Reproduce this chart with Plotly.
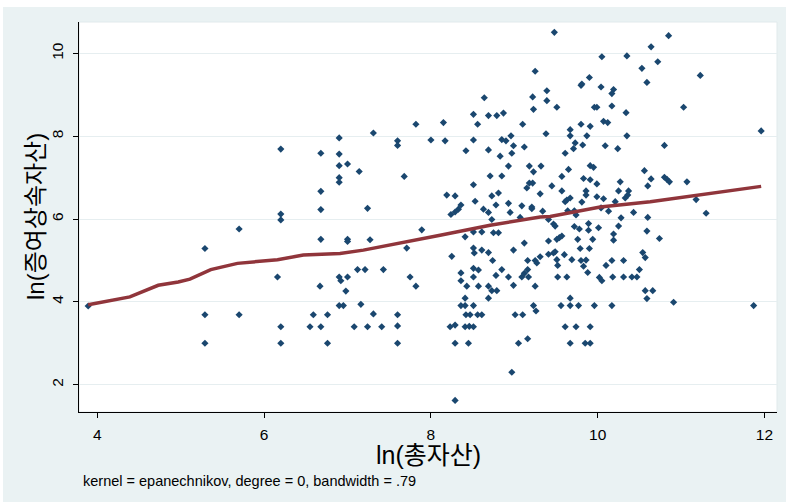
import plotly.graph_objects as go

# ---- data: scatter points (ln total assets, ln gift/inheritance assets) ----
x_low = [3.89, 5.29, 5.70, 6.16, 5.29, 5.70, 5.29,
         6.20, 6.68, 6.90, 6.90, 6.90, 7.00, 7.14, 6.90, 6.90, 7.31,
         7.60, 7.60, 7.82, 8.00, 7.68, 6.68, 6.68, 7.24, 6.20, 6.20,
         6.68, 7.00, 7.00, 7.27, 7.89, 7.71, 6.67, 6.90, 6.92, 7.00,
         6.98, 7.12, 7.21, 7.43, 7.75, 7.82, 6.90, 6.95, 7.16, 6.59,
         6.76, 7.31, 7.60, 6.20, 6.55, 6.68, 7.08, 7.24, 7.41, 7.60,
         6.20, 6.76, 7.60]
y_low = [3.90, 5.29, 5.76, 4.60, 3.69, 3.69, 3.00,
         7.69, 7.59, 7.96, 7.57, 7.29, 7.33, 7.15, 7.00, 6.89, 8.08,
         7.89, 7.78, 8.29, 7.91, 7.03, 6.67, 6.23, 6.26, 6.12, 5.98,
         5.51, 5.51, 5.46, 5.50, 5.74, 5.30, 4.38, 4.60, 4.51, 4.60,
         4.26, 4.78, 4.78, 4.78, 4.60, 4.38, 3.91, 3.91, 3.94, 3.69,
         3.69, 3.71, 3.69, 3.40, 3.40, 3.40, 3.40, 3.40, 3.40, 3.42,
         3.00, 3.00, 3.00]

x_mid = [9.25, 8.64, 9.39, 9.22, 9.39, 9.23, 8.51, 8.69, 8.79, 8.87,
         8.15, 8.56, 9.10, 9.38, 8.17, 8.51, 8.85, 8.90, 8.96, 8.99,
         9.12, 8.42, 8.69, 8.83, 8.97, 8.93, 9.18, 9.32, 9.23, 8.71,
         8.85, 9.18, 9.22, 9.15, 8.51, 9.31, 8.19, 8.29, 8.53, 8.81,
         8.73, 8.36, 8.33, 8.29, 8.24, 8.78, 8.93, 8.63, 8.69, 9.09,
         9.21, 9.21, 8.95, 9.34, 8.73, 9.07, 9.41, 8.41, 8.51, 8.61,
         8.75, 8.81, 8.25, 8.51, 8.52, 8.61, 8.69, 8.74, 8.99, 9.12,
         9.16, 9.25, 9.27, 9.31, 9.41, 9.41, 8.36, 8.51, 8.57, 8.51,
         8.36, 8.43, 8.57, 8.69, 8.73, 8.79, 8.69, 8.85, 8.78, 8.93,
         8.99, 9.09, 9.12, 9.16, 9.17, 9.25, 8.41, 8.36, 8.41, 8.51,
         8.42, 8.47, 8.56, 8.61, 9.01, 9.10, 9.23, 9.26, 8.23, 8.29,
         8.41, 8.46, 8.51, 8.29, 8.45, 9.05, 9.16, 8.97, 8.29]
y_mid = [9.57, 8.93, 9.10, 8.95, 8.86, 8.65, 8.53, 8.50, 8.50, 8.56,
         8.33, 8.29, 8.29, 8.06, 7.89, 7.91, 7.92, 7.89, 8.01, 7.77,
         7.74, 7.65, 7.67, 7.52, 7.59, 7.28, 7.28, 7.28, 7.14, 7.04,
         7.04, 6.87, 6.87, 6.75, 6.83, 6.61, 6.58, 6.56, 6.43, 6.63,
         6.56, 6.34, 6.24, 6.17, 6.11, 6.34, 6.38, 6.24, 6.16, 6.32,
         6.29, 6.25, 6.16, 6.19, 5.99, 6.04, 5.99, 5.57, 5.69, 5.69,
         5.67, 5.67, 5.10, 5.30, 5.18, 5.25, 5.19, 5.00, 5.25, 5.42,
         5.00, 5.00, 4.94, 5.09, 5.47, 5.15, 4.70, 4.81, 4.77, 4.60,
         4.51, 4.38, 4.38, 4.38, 4.27, 4.27, 4.09, 4.78, 4.64, 4.60,
         4.40, 4.60, 4.69, 4.78, 4.60, 4.38, 4.09, 3.91, 3.91, 3.91,
         3.69, 3.69, 3.69, 3.69, 3.69, 3.69, 3.91, 3.78, 3.40, 3.44,
         3.40, 3.41, 3.40, 3.00, 3.00, 3.00, 3.11, 2.30, 1.62]

x_high = [9.48, 10.05, 10.35, 10.64, 10.72, 10.53, 10.59, 9.90, 9.80, 9.81,
          10.04, 9.51, 10.19, 10.17, 9.96, 9.99, 10.17, 10.34, 10.07, 10.12,
          9.80, 9.91, 9.67, 9.67, 9.87, 10.35, 9.73, 9.82, 9.71, 10.09,
          10.24, 9.61, 9.91, 9.95, 9.65, 10.56, 9.57, 9.83, 9.91, 10.64,
          10.27, 9.99, 9.45, 10.60, 9.86, 9.86, 9.57, 10.25, 10.37, 10.36,
          10.33, 9.67, 9.63, 9.61, 9.99, 10.07, 9.81, 10.21, 9.64, 9.72,
          9.74, 10.04, 10.13, 10.43, 10.28, 10.60, 9.47, 9.49, 9.72, 9.78,
          9.89, 9.89, 10.01, 10.25, 10.19, 10.19, 10.59, 10.74, 9.51, 9.54,
          9.57, 9.76, 9.94, 9.79, 9.90, 9.47, 9.49, 9.60, 9.51, 9.52,
          9.69, 9.80, 9.86, 9.83, 9.88, 10.10, 10.17, 10.31, 10.50, 10.54,
          10.57, 9.52, 9.63, 10.02, 10.05, 10.18, 10.31, 10.41, 10.47, 10.57,
          10.66, 10.59, 9.67, 9.56, 9.67, 9.77, 9.96, 10.17, 9.61, 9.74,
          9.91, 9.67, 9.85, 9.91]
y_high = [10.51, 9.92, 9.94, 10.16, 9.80, 9.64, 9.30, 9.42, 9.23, 9.26,
          9.19, 8.70, 9.13, 9.03, 8.70, 8.70, 8.73, 8.57, 8.36, 8.33,
          8.29, 8.24, 8.16, 8.01, 8.01, 8.01, 7.84, 7.79, 7.70, 7.77,
          7.70, 7.59, 7.29, 7.25, 7.20, 7.17, 7.03, 6.98, 6.95, 6.97,
          6.90, 6.85, 6.80, 6.80, 6.68, 6.58, 6.68, 6.68, 6.68, 6.58,
          6.51, 6.51, 6.46, 6.42, 6.54, 6.49, 6.41, 6.42, 6.20, 6.20,
          6.10, 6.27, 6.19, 6.16, 6.03, 6.04, 5.88, 5.83, 5.82, 5.76,
          5.89, 5.73, 5.79, 5.83, 5.64, 5.49, 5.71, 5.53, 5.51, 5.55,
          5.59, 5.51, 5.51, 5.29, 5.29, 5.18, 5.21, 5.14, 5.02, 4.88,
          5.02, 5.00, 5.01, 4.86, 4.71, 4.88, 5.00, 5.00, 4.78, 5.19,
          5.07, 4.60, 4.60, 4.59, 4.51, 4.60, 4.60, 4.60, 4.60, 4.27,
          4.27, 4.08, 4.09, 3.91, 3.91, 3.91, 3.91, 3.91, 3.40, 3.40,
          3.40, 3.00, 3.00, 3.00]

x_top = [10.85, 11.23, 11.03, 11.96, 10.80, 10.80, 10.83, 10.86, 11.07, 11.18,
         11.30, 10.91, 11.87]
y_top = [10.43, 9.47, 8.70, 8.13, 7.78, 7.01, 6.96, 6.90, 6.90, 6.47,
         6.14, 3.99, 3.91]

# ---- local polynomial smooth ----
smooth_x = [3.89, 4.39, 4.73, 4.97, 5.11, 5.36, 5.68, 5.92, 6.16, 6.47,
            6.91, 7.19, 7.67, 8.00, 8.11, 8.71, 9.31, 9.43, 10.03, 10.63,
            11.18, 11.96]
smooth_y = [3.93, 4.12, 4.40, 4.48, 4.55, 4.78, 4.93, 4.97, 5.02, 5.13,
            5.17, 5.25, 5.43, 5.57, 5.61, 5.85, 6.05, 6.06, 6.29, 6.42,
            6.58, 6.79]

x_ticks = [4, 6, 8, 10, 12]
y_ticks = [2, 4, 6, 8, 10]
x_title = "ln(총자산)"
y_title = "ln(증여상속자산)"
note = "kernel = epanechnikov, degree = 0, bandwidth = .79"

FONT = "Liberation Sans, Arial, Noto Sans CJK KR, sans-serif"
NAVY = "#1A476F"
MAROON = "#90353B"
BG = "#EAF2F3"

W, H = 786, 504
L, R, T, B = 79, 9, 22, 92
pw, ph = W - L - R, H - T - B


def px_x(p):
    return (p - L) / pw


def px_y(p):
    return (H - B - p) / ph


fig = go.Figure()
fig.add_trace(go.Scatter(
    x=x_low + x_mid + x_high + x_top,
    y=y_low + y_mid + y_high + y_top,
    mode="markers",
    marker=dict(symbol="diamond", size=5.5, color=NAVY, line=dict(width=0)),
    showlegend=False, hoverinfo="x+y"))
fig.add_trace(go.Scatter(
    x=smooth_x, y=smooth_y, mode="lines",
    line=dict(color=MAROON, width=3.5),
    showlegend=False))

fig.update_layout(
    width=W, height=H,
    margin=dict(l=L, r=R, t=T, b=B),
    paper_bgcolor=BG, plot_bgcolor="white",
    font=dict(family=FONT, color="black"),
    xaxis=dict(range=[3.78, 12.15], tickvals=x_ticks, ticks="outside",
               ticklen=5, tickcolor="black", showgrid=False, zeroline=False,
               showline=True, linecolor="black", linewidth=1,
               tickfont=dict(size=15.5, family=FONT), ticklabelstandoff=3),
    yaxis=dict(range=[1.34, 10.76], tickvals=y_ticks, ticks="outside",
               ticklen=5, tickcolor="black", showgrid=True,
               gridcolor="#E6EEF0", gridwidth=1, zeroline=False,
               showline=True, linecolor="black", linewidth=1,
               tickangle=-90, tickfont=dict(size=15.5, family=FONT),
               ticklabelstandoff=4),
    shapes=[
        dict(type="rect", xref="paper", yref="paper", x0=0, x1=1, y0=0, y1=1,
             line=dict(color="#E1EAEC", width=1), layer="below"),
        # thin white outer border around the graph region
        dict(type="rect", xref="paper", yref="paper", x0=px_x(0), x1=px_x(W),
             y0=px_y(0), y1=px_y(7), fillcolor="white", line=dict(width=0)),
        dict(type="rect", xref="paper", yref="paper", x0=px_x(0), x1=px_x(3),
             y0=px_y(0), y1=px_y(H), fillcolor="white", line=dict(width=0)),
        dict(type="rect", xref="paper", yref="paper", x0=px_x(0), x1=px_x(W),
             y0=px_y(502), y1=px_y(H), fillcolor="white", line=dict(width=0)),
    ],
    annotations=[
        dict(text=x_title, xref="paper", yref="paper", x=0.5, y=px_y(455),
             xanchor="center", yanchor="middle", showarrow=False,
             font=dict(size=25, family=FONT)),
        dict(text=y_title, xref="paper", yref="paper", x=px_x(35), y=0.5,
             xanchor="center", yanchor="middle", showarrow=False, textangle=-90,
             font=dict(size=24, family=FONT)),
        dict(text=note, xref="paper", yref="paper", x=px_x(81), y=px_y(481),
             xanchor="left", yanchor="middle", showarrow=False,
             font=dict(size=14.5, family=FONT)),
    ],
)

fig.write_html("out.html",
               config={"displayModeBar": False},
               post_script="document.body.style.margin='0px';"
                           "document.body.style.overflow='hidden';")
